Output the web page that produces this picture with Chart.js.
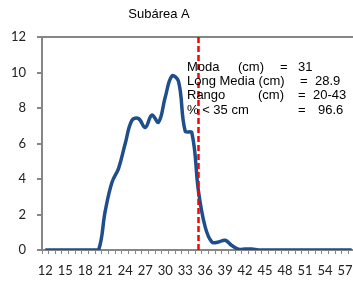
<!DOCTYPE html>
<html>
<head>
<meta charset="utf-8">
<script src="https://cdn.jsdelivr.net/npm/chart.js"></script>
<style>
  html, body { margin: 0; padding: 0; background: #fff; overflow: hidden; }
  #wrap { width: 355px; height: 285px; }
</style>
</head>
<body>
<div id="wrap"><canvas id="myChart"></canvas></div>
<script>
const tallas = ['12','13','14','15','16','17','18','19','20','21','22','23','24','25','26','27',
  '28','29','30','31','32','33','34','35','36','37','38','39','40','41','42','43',
  '44','45','46','47','48','49','50','51','52','53','54','55','56','57','58'];
const frecuencia = [0, 0, 0, 0, 0, 0, 0, 0, 0, 2.2, 3.8, 4.6, 6.0, 7.3, 7.4, 6.9,
  7.6, 7.2, 8.6, 9.8, 9.5, 6.7, 6.6, 3.3, 1.3, 0.45, 0.45, 0.55, 0.25, 0.05, 0.05, 0.05,
  0, 0, 0, 0, 0, 0, 0, 0, 0, 0, 0, 0, 0, 0, 0];
const yTicks = [0, 2, 4, 6, 8, 10, 12];
const tallaRef = '35';
const titulo = 'Subárea A';

// each row: [text, x]
const resumen = [
  [['Moda', 187], ['(cm)', 238], ['=', 280], ['31', 298]],
  [['Long Media (cm)', 187], ['=', 300], ['28.9', 315]],
  [['Rango', 187], ['(cm)', 258], ['=', 298], ['20-43', 313]],
  [['% < 35 cm', 187], ['=', 298], ['96.6', 318]]
];
const resumenY = [70.5, 85, 99.3, 113.5];

const gris = '#868686';

const extras = {
  id: 'extras',
  afterDatasetsDraw(chart) {
    const c = chart.ctx;
    const area = chart.chartArea;
    const x = chart.scales.x.getPixelForValue(tallas.indexOf(tallaRef));
    c.save();
    c.strokeStyle = '#ff0000';
    c.lineWidth = 2.5;
    c.setLineDash([6, 3]);
    c.beginPath();
    c.moveTo(x, area.top);
    c.lineTo(x, area.bottom);
    c.stroke();
    c.setLineDash([]);

    c.fillStyle = '#000';
    c.font = '13px "Liberation Sans", Arial, sans-serif';
    c.textBaseline = 'alphabetic';
    c.textAlign = 'left';
    resumen.forEach((row, i) => {
      row.forEach(([t, tx]) => c.fillText(t, tx, resumenY[i]));
    });

    c.textAlign = 'center';
    c.textBaseline = 'middle';
    c.fillText(titulo, 159, 14);
    c.restore();
  }
};

new Chart(document.getElementById('myChart'), {
  type: 'line',
  data: {
    labels: tallas,
    datasets: [{
      data: frecuencia,
      borderColor: '#1f4e8c',
      borderWidth: 3.5,
      pointRadius: 0,
      tension: 0.4,
      fill: false
    }]
  },
  options: {
    responsive: true,
    maintainAspectRatio: false,
    animation: false,
    layout: { padding: { top: 37, right: 0, left: 0, bottom: 0 } },
    plugins: {
      legend: { display: false },
      tooltip: { enabled: false }
    },
    scales: {
      x: {
        offset: true,
        afterFit: s => { s.height = 35; s.paddingLeft = 0; s.paddingRight = 0; },
        border: { color: gris, width: 2 },
        grid: {
          offset: true,
          drawOnChartArea: false,
          drawTicks: true,
          tickLength: 4,
          tickColor: gris
        },
        ticks: {
          autoSkip: false,
          maxRotation: 0,
          padding: 9,
          color: '#222',
          font: { family: 'Lato', size: 13 },
          callback: (v, i) => (i % 3 === 0 ? tallas[i] : '')
        }
      },
      y: {
        min: 0,
        max: 12,
        afterFit: s => { s.width = 42; s.paddingTop = 0; s.paddingBottom = 0; },
        afterBuildTicks: s => { s.ticks = yTicks.map(v => ({ value: v })); },
        border: { color: gris, width: 2 },
        grid: {
          color: ctx => (ctx.tick && ctx.tick.value === 12 ? gris : 'rgba(0,0,0,0)'),
          lineWidth: 2,
          tickColor: gris,
          tickLength: 5
        },
        ticks: {
          padding: 11,
          color: '#222',
          font: { family: 'Lato', size: 13 }
        }
      }
    }
  },
  plugins: [extras]
});
</script>
</body>
</html>
